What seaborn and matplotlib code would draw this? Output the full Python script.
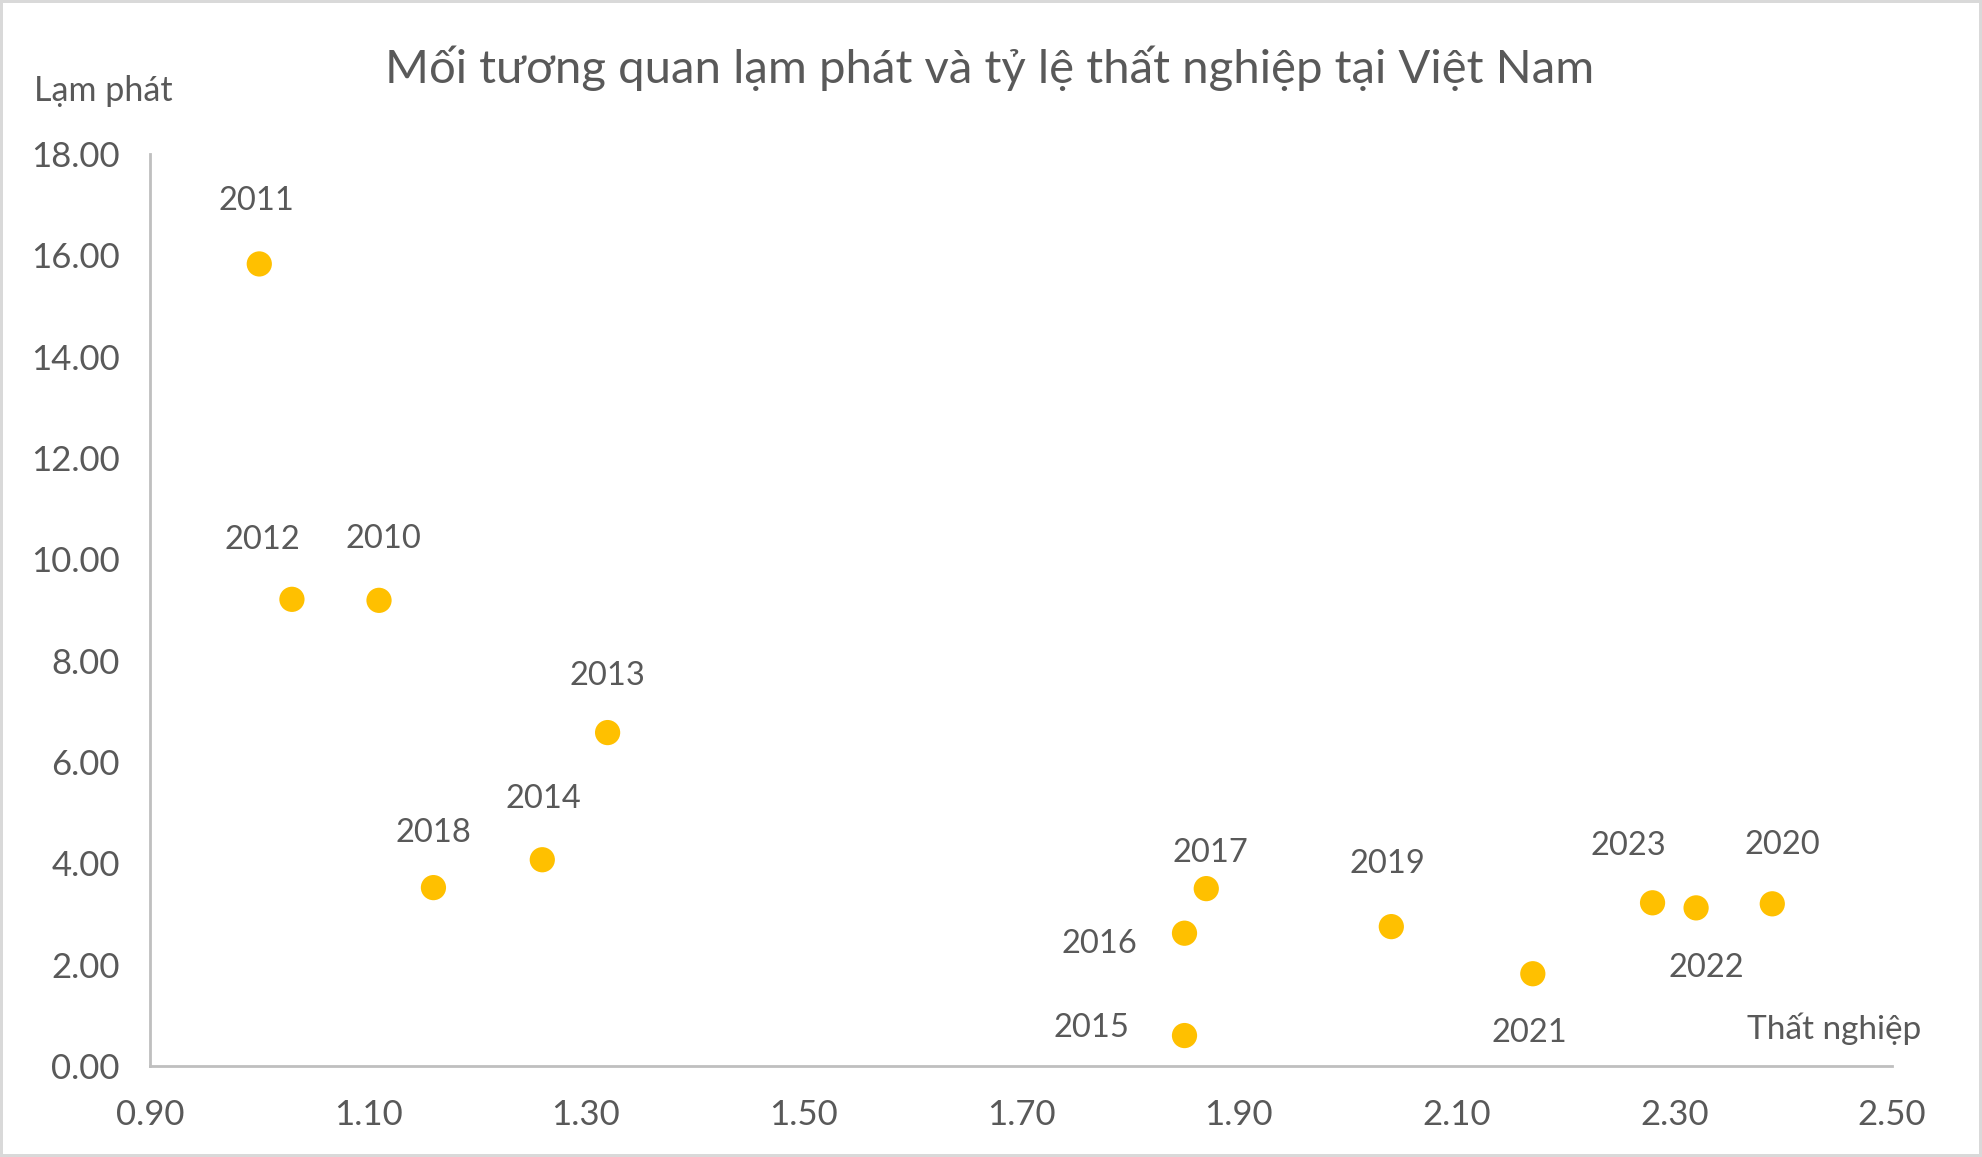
import matplotlib
matplotlib.use("Agg")
import matplotlib.pyplot as plt
import seaborn as sns
import pandas as pd

# du lieu doc tu hinh
nam = ["2010", "2011", "2012", "2013", "2014", "2015", "2016",
       "2017", "2018", "2019", "2020", "2021", "2022", "2023"]
that_nghiep = [1.11, 1.00, 1.03, 1.32, 1.26, 1.85, 1.85,
               1.87, 1.16, 2.04, 2.39, 2.17, 2.32, 2.28]
lam_phat = [9.19, 15.83, 9.21, 6.58, 4.07, 0.60, 2.62,
            3.50, 3.52, 2.75, 3.20, 1.82, 3.12, 3.22]
x_ticks = [0.90, 1.10, 1.30, 1.50, 1.70, 1.90, 2.10, 2.30, 2.50]
y_ticks = [0, 2, 4, 6, 8, 10, 12, 14, 16, 18]

df = pd.DataFrame({"nam": nam, "that_nghiep": that_nghiep, "lam_phat": lam_phat})

# vi tri nhan (pixel so voi diem)
offsets = {
    "2010": (4, 64), "2011": (-3, 66), "2012": (-30, 62), "2013": (0, 60),
    "2014": (1, 64), "2015": (-93, 11), "2016": (-85, -8), "2017": (4, 39),
    "2018": (0, 58), "2019": (-4, 66), "2020": (10, 62), "2021": (-3, -56),
    "2022": (10, -57), "2023": (-24, 60),
}

sns.set_theme(style="white")
plt.rcParams["font.family"] = ["Lato", "DejaVu Sans"]

text_col = "#595959"
axis_col = "#BFBFBF"

fig = plt.figure(figsize=(19.82, 11.57), dpi=100)
fig.patch.set_edgecolor("#D9D9D9")
fig.patch.set_linewidth(3)
ax = fig.add_axes([0.0759, 0.0787, 0.8787, 0.7882])

sns.scatterplot(data=df, x="that_nghiep", y="lam_phat", ax=ax,
                color="#FFC000", s=330, edgecolor="none", zorder=3)

for _, r in df.iterrows():
    dx, dy = offsets[r["nam"]]
    ax.annotate(r["nam"], (r["that_nghiep"], r["lam_phat"]),
                xytext=(dx, dy - 3), textcoords="offset pixels",
                ha="center", va="center", fontsize=23.5, color=text_col)

ax.set_xlim(0.90, 2.50)
ax.set_ylim(0, 18)
ax.set_xticks(x_ticks)
ax.set_yticks(y_ticks)
ax.set_xticklabels([f"{v:.2f}" for v in x_ticks])
ax.set_yticklabels([f"{v:.2f}" for v in y_ticks])
ax.tick_params(length=0, labelsize=25, labelcolor=text_col)
ax.tick_params(axis="x", pad=24)
ax.tick_params(axis="y", pad=22)
ax.set_xlabel("")
ax.set_ylabel("")

for s in ["top", "right"]:
    ax.spines[s].set_visible(False)
for s in ["left", "bottom"]:
    ax.spines[s].set_color(axis_col)
    ax.spines[s].set_linewidth(2)

fig.text(0.4995, 0.941, "Mối tương quan lạm phát và tỷ lệ thất nghiệp tại Việt Nam",
         ha="center", va="center", fontsize=34, color=text_col)
fig.text(0.017, 0.921, "Lạm phát", ha="left", va="center", fontsize=24.5,
         color=text_col)
fig.text(0.9695, 0.111, "Thất nghiệp", ha="right", va="center", fontsize=24,
         color=text_col)

fig.savefig("out.png", dpi=100, facecolor="white", edgecolor=fig.get_edgecolor())
